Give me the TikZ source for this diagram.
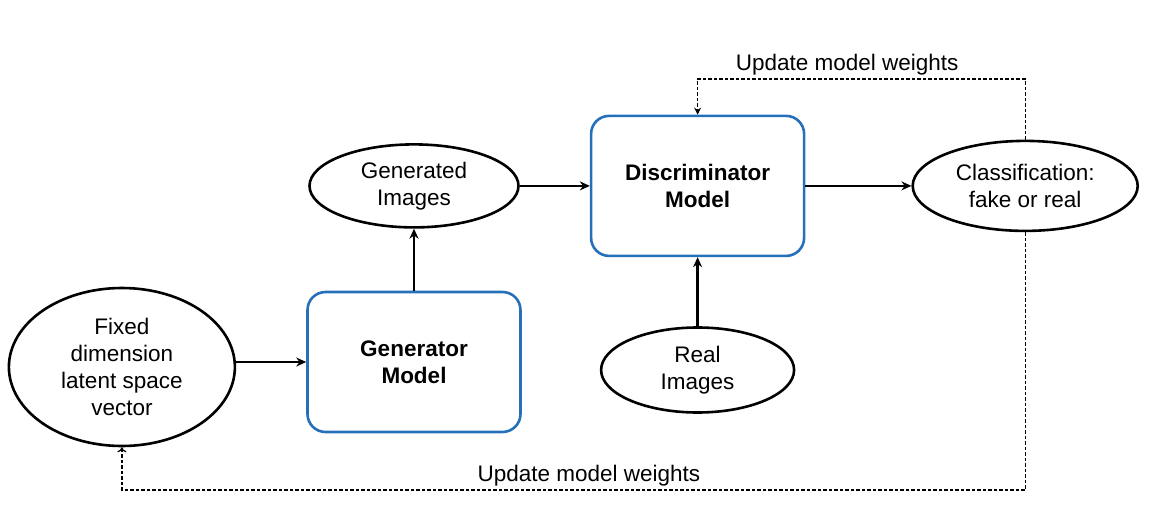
\documentclass[tikz,border=0pt]{standalone}
\usepackage{fontspec}
\setmainfont{Liberation Sans}
\usetikzlibrary{shapes.geometric, arrows.meta, positioning}
\definecolor{modelblue}{RGB}{38,112,186}
\tikzstyle{model} = [rectangle, rounded corners=18pt, minimum width=213pt, minimum height=140pt, text centered, line width=2.6pt, draw=modelblue, font=\fontsize{22.5}{27}\selectfont\bfseries]
\tikzstyle{data} = [ellipse, inner sep=0pt, text centered, line width=2.6pt, draw=black]
\tikzstyle{arrow} = [line width=2.4pt,-{Stealth[length=10pt,width=9pt]}]
\tikzstyle{feedback} = [line width=1.2pt, dash pattern=on 3.5pt off 2pt, -{Stealth[length=7pt,width=7pt]}]
\tikzstyle{feedbackopen} = [line width=1.2pt, dash pattern=on 3.5pt off 2pt, -{To[length=5pt,width=9pt]}]

\begin{document}
\begin{tikzpicture}[x=1pt, y=-1pt, node distance=70pt, font=\fontsize{22.5}{27}\selectfont]
\useasboundingbox (0,0) rectangle (1153,513);

\node (gen) [model, align=center] at (414,362) {Generator\\Model};
\node (genimg) [data, align=center, minimum width=209pt, minimum height=83pt, above=62pt of gen] {Generated\\Images};
\node (latent) [data, align=center, minimum width=226pt, minimum height=158pt, left=of gen, yshift=-5pt] {Fixed\\dimension\\latent space\\vector};

\node (disc) [model, align=center, right=of genimg] {Discriminator\\Model};
\node (real) [data, align=center, minimum width=193pt, minimum height=85pt, below=69pt of disc] {Real\\Images};
\node (cls) [data, align=center, minimum width=225pt, minimum height=90pt, right=106pt of disc] {Classification:\\fake or real};

\draw [arrow] (latent.east |- gen.west) -- (gen.west);
\draw [arrow] (gen.north -| genimg.south) -- (genimg.south);
\draw [arrow] (genimg) -- (disc);
\draw [arrow] (real) -- (disc);
\draw [arrow] (disc) -- (cls);

\coordinate (topright) at (cls.north |- 0,79);
\coordinate (topleft) at (disc.north |- 0,79);
\draw [feedback] (cls.north) -- (topright) -- (topleft) -- (disc.north);
\node (toplabel) [above=0pt of topright, xshift=-178pt] {Update model weights};

\coordinate (botright) at (cls.south |- 0,490);
\coordinate (botleft) at (latent.south |- 0,490);
\draw [feedbackopen] (cls.south) -- (botright) -- (botleft) -- (latent.south);
\node (botlabel) [above=0pt of botleft, xshift=467pt] {Update model weights};

\end{tikzpicture}
\end{document}
